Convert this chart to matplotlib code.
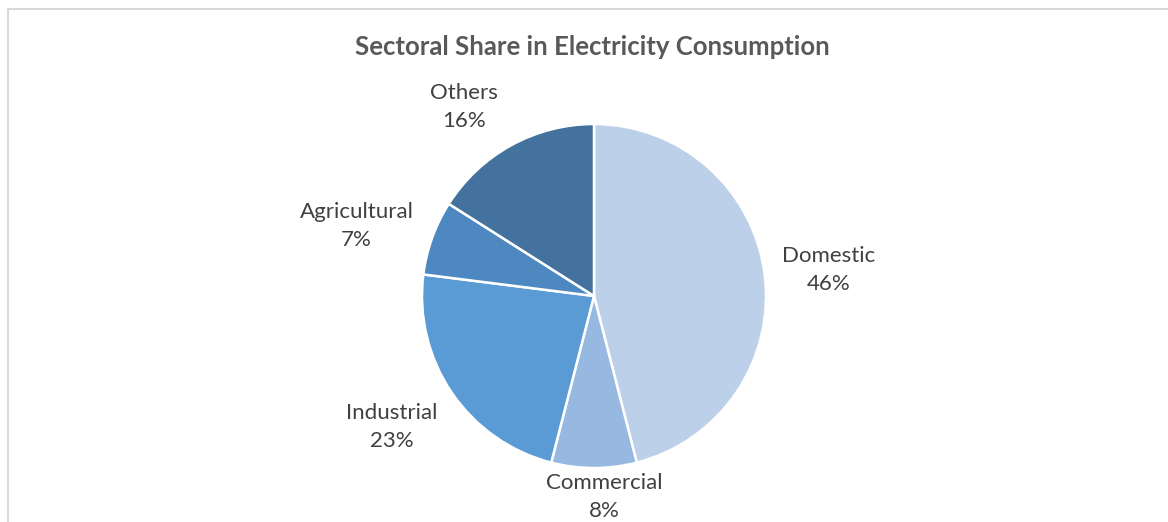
import numpy as np
import matplotlib.pyplot as plt
from matplotlib.lines import Line2D

plt.rcParams['font.family'] = ['Lato', 'DejaVu Sans']

sectors = ['Domestic', 'Commercial', 'Industrial', 'Agricultural', 'Others']
shares = [46, 8, 23, 7, 16]
colors = ['#BDD0EA', '#97B8E0', '#5B9BD5', '#4E88C0', '#43729E']
# label placement: distance from centre (radii) and angle nudge from the slice middle (deg)
label_dist = [1.375, 1.17, 1.40, 1.44, 1.33]
label_nudge = [-0.9, 2.8, -1.2, 3.4, 5.7]

W, H = 1168, 522
fig = plt.figure(figsize=(W / 100, H / 100), dpi=100)

# chart frame (only top and left edges show in the crop)
fig.add_artist(Line2D([8 / W, 1], [1 - 9 / H, 1 - 9 / H], color='#D9D9D9', lw=1.5))
fig.add_artist(Line2D([8 / W, 8 / W], [0, 1 - 9 / H], color='#D9D9D9', lw=1.5))

cx, cy, R = 594, 522 - 296, 172
half = 260
ax = fig.add_axes([(cx - half) / W, (cy - half) / H, 2 * half / W, 2 * half / H])

wedges, _ = ax.pie(shares, colors=colors, startangle=90, counterclock=False,
                   radius=1, wedgeprops=dict(edgecolor='white', linewidth=1.8))
ax.set_xlim(-half / R, half / R)
ax.set_ylim(-half / R, half / R)
ax.set_aspect('equal')
ax.axis('off')

for w, name, val, d, nd in zip(wedges, sectors, shares, label_dist, label_nudge):
    ang = np.deg2rad((w.theta1 + w.theta2) / 2 + nd)
    ax.text(d * np.cos(ang), d * np.sin(ang), f'{name}\n{val}%', ha='center', va='center',
            fontsize=16, color='#404040', linespacing=1.5, clip_on=False)

fig.text(592 / W, 1 - 47 / H, 'Sectoral Share in Electricity Consumption', ha='center', va='center',
         fontsize=18.5, fontweight='bold', color='#595959')

plt.savefig('out.png', dpi=100)
